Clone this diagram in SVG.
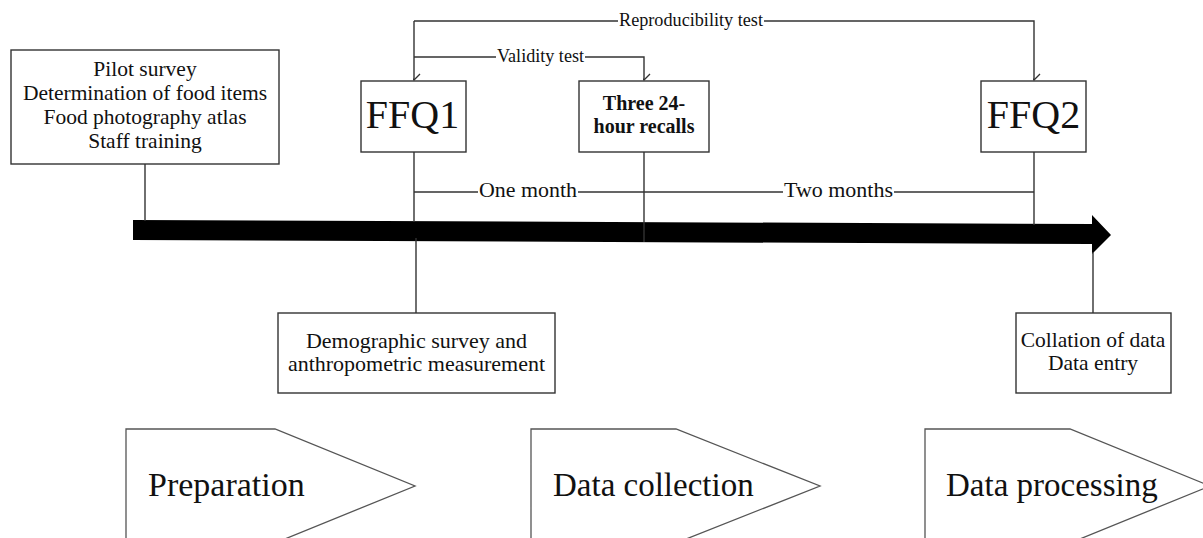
<svg xmlns="http://www.w3.org/2000/svg" width="1203" height="538" viewBox="0 0 1203 538">
<style>
.box{fill:#fff;stroke:#333;stroke-width:1.4}
.ln{fill:none;stroke:#333;stroke-width:1.4}
.t{font-family:"Liberation Serif","Times New Roman",serif;fill:#111;text-anchor:middle}
.s21{font-size:21.5px}
.lab{font-size:18px}
.mo{font-size:22px}
.big{font-size:40px}
.ph{font-size:33px;text-anchor:start}
.b{font-weight:bold;font-size:20px}
.chev{fill:#fff;stroke:#555;stroke-width:1.3}
</style>
<defs>
<marker id="v" viewBox="-7 -7 14 8" markerWidth="14" markerHeight="8" refX="0" refY="0" markerUnits="userSpaceOnUse" orient="auto">
<path d="M-6,-6 L0,0 L6,-6" fill="none" stroke="#333" stroke-width="1.3" transform="rotate(-90)"/>
</marker>
</defs>
<rect width="1203" height="538" fill="#fff"/>
<g id="connectors">
<polygon points="133,220 1092,224 1092,215 1111,235 1092,254 1092,244 133,240" fill="#000"/>
<line class="ln" x1="145" y1="164" x2="145" y2="221"/>
<line class="ln" x1="414" y1="152" x2="414" y2="222"/>
<line class="ln" x1="416" y1="238" x2="416" y2="313"/>
<line class="ln" x1="644" y1="152" x2="644" y2="242"/>
<line class="ln" x1="1034" y1="152" x2="1034" y2="225"/>
<line class="ln" x1="1093" y1="252" x2="1093" y2="313"/>
<path class="ln" d="M414,21 H618 M764,21 H1034 V80" marker-end="url(#v)"/>
<line class="ln" x1="414" y1="21" x2="414" y2="80" marker-end="url(#v)"/>
<path class="ln" d="M414,57 H496 M585,57 H644 V80" marker-end="url(#v)"/>
<path class="ln" d="M414,192 H478 M578,192 H783 M894,192 H1034"/>
<text class="t lab" x="691" y="26" textLength="144" lengthAdjust="spacingAndGlyphs">Reproducibility test</text>
<text class="t lab" x="540.5" y="62" textLength="87" lengthAdjust="spacingAndGlyphs">Validity test</text>
<text class="t mo" x="528" y="197" textLength="98" lengthAdjust="spacingAndGlyphs">One month</text>
<text class="t mo" x="838.5" y="197" textLength="109" lengthAdjust="spacingAndGlyphs">Two months</text>
</g>
<g id="prep-box">
<rect class="box" x="11" y="50" width="268" height="114"/>
<text class="t s21" x="145" y="76">Pilot survey</text>
<text class="t s21" x="145" y="100">Determination of food items</text>
<text class="t s21" x="145" y="124">Food photography atlas</text>
<text class="t s21" x="145" y="148">Staff training</text>
</g>
<g id="ffq1">
<rect class="box" x="361" y="81" width="105" height="71"/>
<text class="t big" x="412.5" y="128">FFQ1</text>
</g>
<g id="recalls">
<rect class="box" x="579" y="81" width="130" height="71"/>
<text class="t b" x="644" y="110">Three 24-</text>
<text class="t b" x="644" y="133">hour recalls</text>
</g>
<g id="ffq2">
<rect class="box" x="981" y="81" width="105" height="71"/>
<text class="t big" x="1033.5" y="128">FFQ2</text>
</g>
<g id="demographic">
<rect class="box" x="278" y="313" width="277" height="80"/>
<text class="t s21" x="416.5" y="348" style="font-size:22px">Demographic survey and</text>
<text class="t s21" x="416.5" y="371" style="font-size:22px">anthropometric measurement</text>
</g>
<g id="collation">
<rect class="box" x="1016" y="313" width="155" height="80"/>
<text class="t s21" x="1093" y="347">Collation of data</text>
<text class="t s21" x="1093" y="370">Data entry</text>
</g>
<g id="phase-preparation">
<polygon class="chev" points="126,429 275,429 415,486 275,543 126,543"/>
<text class="t ph" x="148" y="496" style="font-size:34px">Preparation</text>
</g>
<g id="phase-collection">
<polygon class="chev" points="531,429 676,429 820,486 676,543 531,543"/>
<text class="t ph" x="553" y="496">Data collection</text>
</g>
<g id="phase-processing">
<polygon class="chev" points="925,429 1070,429 1210,486 1070,543 925,543"/>
<text class="t ph" x="946" y="496">Data processing</text>
</g>
</svg>
